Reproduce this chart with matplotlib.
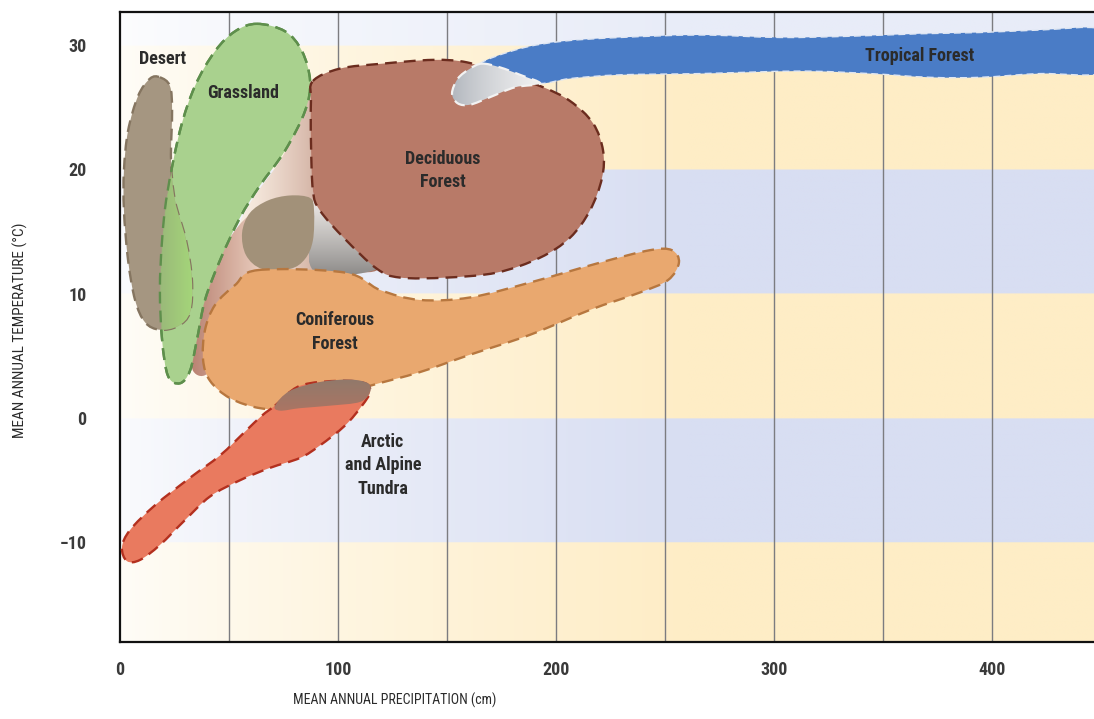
import numpy as np
import matplotlib
matplotlib.use("Agg")
import matplotlib.pyplot as plt
from matplotlib.path import Path
from matplotlib.patches import PathPatch
from matplotlib import font_manager as fm
from matplotlib.colors import to_rgb

available = {f.name for f in fm.fontManager.ttflist}
FONT = next((f for f in ["Liberation Sans Narrow", "DejaVu Sans Condensed",
                         "Roboto Condensed", "DejaVu Sans"] if f in available), "DejaVu Sans")
plt.rcParams["font.family"] = [FONT, "DejaVu Sans"]

# ---------------- data ----------------
x_ticks = [0, 100, 200, 300, 400]
y_ticks = [-10, 0, 10, 20, 30]
grid_x = [50, 100, 150, 200, 250, 300, 350, 400]
band_lo = [-30, -10, 0, 10, 20, 30]
band_hi = [-10, 0, 10, 20, 30, 40]
band_kind = ["cream", "lav", "cream", "lav", "cream", "top"]

# biome outlines: (precipitation cm, temperature C)
desert_x = [18.3, 22.9, 23.9, 23.4, 25.2, 30.3, 33.0, 32.1, 26.6, 18.3, 11.5, 6.9, 3.7, 1.8, 1.8, 3.7, 8.3, 13.8]
desert_y = [27.4, 26.7, 24.7, 20.7, 17.5, 14.3, 11.1, 8.5, 7.4, 7.1, 7.7, 9.5, 12.7, 16.7, 19.9, 23.1, 25.9, 27.3]

grass_x = [62.8, 75.7, 83.5, 87.2, 84.9, 75.7, 64.2, 55.0, 45.9, 39.0, 35.3, 32.1, 27.5, 22.0, 19.3, 18.3, 19.3, 21.6, 27.5, 34.4, 43.6, 52.8]
grass_y = [31.7, 31.1, 29.5, 27.1, 24.7, 21.5, 18.7, 16.1, 12.7, 9.5, 6.3, 3.8, 2.8, 3.4, 6.3, 10.3, 14.3, 18.0, 23.1, 26.7, 29.5, 31.1]

decid_x = [88.5, 100.9, 120.6, 143.6, 159.2, 174.3, 192.7, 206.4, 217.0, 221.6, 221.1, 215.6, 206.4, 192.7, 172.9, 150.0, 128.4, 117.9, 103.2, 91.7, 88.5, 87.6, 87.6]
decid_y = [27.1, 28.1, 28.5, 28.8, 28.6, 27.7, 26.7, 25.5, 23.7, 21.5, 19.3, 16.7, 14.5, 12.9, 11.7, 11.3, 11.3, 12.0, 14.4, 16.7, 18.3, 22.3, 25.5]

conif_x = [63.3, 103.2, 119.3, 137.6, 160.6, 188.1, 220.2, 243.1, 253.2, 256.4, 251.4, 238.5, 215.6, 188.1, 160.6, 137.6, 114.7, 96.3, 78.0, 64.2, 50.5, 41.3, 38.1, 39.0, 43.6, 52.8]
conif_y = [11.9, 11.7, 10.3, 9.5, 9.7, 10.9, 12.5, 13.5, 13.5, 12.5, 11.1, 10.1, 8.7, 6.7, 5.1, 3.7, 2.6, 1.6, 0.8, 0.8, 1.6, 3.0, 4.7, 7.1, 9.1, 10.7]

tundra_x = [71.1, 82.6, 100.9, 112.4, 114.7, 111.0, 103.2, 91.7, 82.6, 68.8, 55.0, 41.3, 29.8, 18.3, 9.2, 3.2, 0.9, 4.6, 16.1, 32.1, 45.9, 57.3, 65.1]
tundra_y = [1.0, 2.6, 3.0, 2.8, 2.1, 1.0, -0.6, -2.2, -3.2, -4.0, -5.0, -6.3, -8.2, -10.2, -11.4, -11.5, -10.4, -9.0, -7.0, -4.8, -3.0, -1.1, 0.2]

tropic_x = [165.1, 183.5, 203.2, 229.4, 266.1, 302.8, 334.9, 367.0, 394.5, 422.0, 449.5, 454.1, 449.5, 422.0, 394.5, 371.6, 344.0, 311.9, 266.1, 229.4, 206.4, 192.7, 178.9, 169.7]
tropic_y = [28.5, 29.7, 30.3, 30.6, 30.8, 30.6, 30.7, 30.9, 31.0, 31.2, 31.3, 29.5, 27.7, 27.7, 27.4, 27.4, 27.7, 27.9, 27.7, 27.6, 27.3, 26.9, 27.3, 27.7]

# overlap / transition zones
hook_x = [166.1, 160.6, 155.0, 152.3, 155.0, 160.6, 169.7, 181.2, 192.7, 183.5, 174.3]
hook_y = [28.5, 28.1, 27.3, 26.1, 25.3, 25.2, 25.8, 26.6, 26.9, 27.6, 28.2]

connA_x = [87.6, 82.6, 73.4, 61.9, 55.0, 53.2, 59.6, 88.5, 117.9, 103.2, 91.7, 88.5]
connA_y = [26.9, 23.9, 20.7, 17.9, 15.7, 13.5, 12.0, 11.9, 11.9, 14.4, 16.7, 18.3]

connB_x = [59.6, 48.2, 39.0, 33.5, 33.5, 41.3, 50.5, 64.2, 68.8, 65.1]
connB_y = [16.3, 13.9, 10.3, 6.3, 3.8, 3.8, 7.9, 10.7, 12.0, 15.1]

grey_x = [88.5, 96.3, 106.4, 117.9, 88.5]
grey_y = [17.5, 15.9, 13.9, 12.0, 11.9]

cap_x = [56.0, 59.6, 67.9, 78.0, 87.2, 89.0, 88.5, 84.9, 78.0, 65.1, 57.8]
cap_y = [14.9, 16.5, 17.5, 17.9, 17.7, 16.7, 14.3, 12.8, 12.0, 12.0, 13.1]

tc_x = [71.1, 78.0, 91.7, 105.5, 113.8, 114.7, 110.1, 96.3, 82.6, 73.4]
tc_y = [1.0, 2.2, 2.9, 3.1, 2.8, 2.1, 1.3, 1.0, 0.8, 0.6]

labels = ["Desert", "Grassland", "Deciduous\nForest", "Coniferous\nForest",
          "Arctic\nand Alpine\nTundra", "Tropical Forest"]
label_x = [19.3, 56.4, 148.2, 98.6, 120.6, 367.0]
label_y = [28.9, 26.1, 19.9, 6.9, -3.8, 29.1]

XMAX = 446.8
YMIN, YMAX = -18.0, 32.65

# ---------------- helpers ----------------
def smooth_path(xs, ys):
    P = np.column_stack([xs, ys]).astype(float)
    n = len(P)
    verts = [P[0]]
    codes = [Path.MOVETO]
    for i in range(n):
        p0, p1, p2, p3 = P[(i - 1) % n], P[i], P[(i + 1) % n], P[(i + 2) % n]
        verts += [p1 + (p2 - p0) / 6.0, p2 - (p3 - p1) / 6.0, p2]
        codes += [Path.CURVE4] * 3
    verts.append(P[0])
    codes.append(Path.CLOSEPOLY)
    return Path(verts, codes)


fig = plt.figure(figsize=(10.94, 7.19), dpi=100)
ax = fig.add_axes([120 / 1094, 1 - 642 / 719, 1 - 120 / 1094, (642 - 12) / 719])

DASH = (0, (5, 3))


def blob(xs, ys, face, edge, z, lw=1.7):
    path = smooth_path(xs, ys)
    fill = PathPatch(path, facecolor=face, edgecolor="none", zorder=z)
    ax.add_patch(fill)
    if edge is not None:
        ax.add_patch(PathPatch(path, facecolor="none", edgecolor=edge, lw=lw,
                               linestyle=DASH, zorder=z + 0.05))
    return path, fill


def gradient(xs, ys, c0, c1, z, horizontal=True, power=1.0, mask_path=None):
    path = smooth_path(xs, ys)
    xmin, xmax = min(xs) - 2, max(xs) + 2
    ymin, ymax = min(ys) - 0.5, max(ys) + 0.5
    c0, c1 = np.array(to_rgb(c0)), np.array(to_rgb(c1))
    n = 200
    t = np.linspace(0, 1, n) ** power
    cols = c0[None, :] * (1 - t[:, None]) + c1[None, :] * t[:, None]
    if horizontal:
        arr = np.repeat(cols[None, :, :], n, axis=0)
    else:
        arr = np.repeat(cols[:, None, :], n, axis=1)
    alpha = np.ones((n, n, 1))
    if mask_path is not None:
        gx, gy = np.meshgrid(np.linspace(xmin, xmax, n), np.linspace(ymin, ymax, n))
        inside = mask_path.contains_points(np.column_stack([gx.ravel(), gy.ravel()]))
        alpha = inside.reshape(n, n, 1).astype(float)
    arr = np.concatenate([arr, alpha], axis=2)
    im = ax.imshow(arr, extent=[xmin, xmax, ymin, ymax], origin="lower",
                   aspect="auto", zorder=z, interpolation="bilinear")
    clip = PathPatch(path, facecolor="none", edgecolor="none", transform=ax.transData)
    ax.add_patch(clip)
    im.set_clip_path(clip)
    return path


# ---------------- background bands ----------------
colors = {"cream": np.array([254, 237, 198]) / 255,
          "lav": np.array([216, 222, 242]) / 255,
          "top": np.array([232, 236, 248]) / 255}
ny, nx = 600, 700
ys_bg = np.linspace(YMIN, YMAX, ny)
xs_bg = np.linspace(0, XMAX, nx)
base = np.ones((ny, 3))
for lo, hi, kind in zip(band_lo, band_hi, band_kind):
    sel = (ys_bg >= lo) & (ys_bg < hi)
    base[sel] = colors[kind]
fx = 0.12 + 0.88 * np.clip(xs_bg / 260.0, 0, 1) ** 0.8
bg = 1 - (1 - base[:, None, :]) * fx[None, :, None]
ax.imshow(bg, extent=[0, XMAX, YMIN, YMAX], origin="lower", aspect="auto",
          zorder=0, interpolation="bilinear")

for gx in grid_x:
    ax.axvline(gx, color="#7c7c80", lw=1.0, zorder=0.5)

# ---------------- biomes ----------------
gradient(connA_x, connA_y, "#fbf1e6", "#a86e5c", 1.0, horizontal=True, power=1.3)
gradient(connB_x, connB_y, "#b88070", "#f3dccd", 1.1, horizontal=True)

grass_path, grass_patch = blob(grass_x, grass_y, "#a9d18e", "#5e8f4c", 2.0)
desert_path, desert_patch = blob(desert_x, desert_y, "#a59681", "#857560", 2.2)
# desert / grassland overlap
gradient(desert_x, desert_y, "#8d9678", "#a6d97a", 2.4, horizontal=True,
         mask_path=grass_path)
ax.add_patch(PathPatch(grass_path, facecolor="none", edgecolor="#5e8f4c", lw=1.7,
                       linestyle=DASH, zorder=2.45))

gradient(grey_x, grey_y, "#8a8886", "#f6f2ef", 2.6, horizontal=False, power=0.9)
blob(cap_x, cap_y, "#a29179", None, 2.7)

blob(decid_x, decid_y, "#b87a68", "#6b2c1e", 3.0)
blob(conif_x, conif_y, "#e9a86f", "#b7773f", 3.2)
blob(tundra_x, tundra_y, "#e97a5f", "#b3301f", 3.4)
gradient(tc_x, tc_y, "#b07462", "#8c7a6c", 3.6, horizontal=False)

blob(tropic_x, tropic_y, "#4a7cc6", "#dfe6f2", 3.8, lw=1.0)
hook = gradient(hook_x, hook_y, "#a9aeb6", "#f4f4f4", 3.9, horizontal=True, power=0.7)
ax.add_patch(PathPatch(hook, facecolor="none", edgecolor="#f2f2f2", lw=1.6,
                       linestyle=DASH, zorder=3.95))

# ---------------- labels ----------------
for txt, lx, ly in zip(labels, label_x, label_y):
    ax.text(lx, ly, txt, ha="center", va="center", fontsize=13, fontweight="semibold",
            color="#2b2b2b", linespacing=1.4, zorder=5)

# ---------------- axes ----------------
ax.set_xlim(0, XMAX)
ax.set_ylim(YMIN, YMAX)
ax.set_xticks(x_ticks)
ax.set_yticks(y_ticks)
ax.set_xticklabels([str(v) for v in x_ticks])
ax.set_yticklabels(["\u221210" if v < 0 else str(v) for v in y_ticks])
ax.tick_params(length=0, labelsize=13, colors="#3a3a3a")
ax.tick_params(axis="y", pad=24)
ax.tick_params(axis="x", pad=14)
for lab in ax.get_xticklabels() + ax.get_yticklabels():
    lab.set_fontweight("bold")
for side in ["left", "bottom", "top"]:
    ax.spines[side].set_color("#111111")
    ax.spines[side].set_linewidth(1.6)
ax.spines["right"].set_visible(False)

fig.text(395 / 1094, 1 - 700 / 719, "MEAN ANNUAL PRECIPITATION (cm)", ha="center",
         va="center", fontsize=10, color="#2b2b2b")
fig.text(20 / 1094, 1 - 330 / 719, "MEAN ANNUAL TEMPERATURE (\u00b0C)", ha="center",
         va="center", rotation=90, fontsize=11, color="#2b2b2b")

fig.savefig("out.png", dpi=100)
